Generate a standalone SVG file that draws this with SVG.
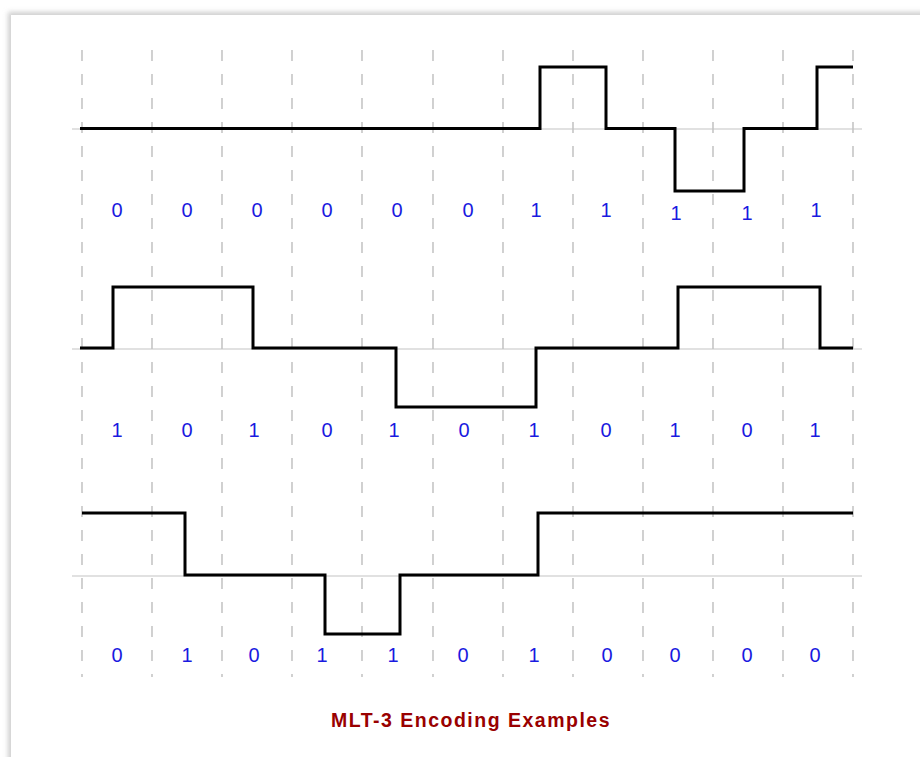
<svg xmlns="http://www.w3.org/2000/svg" width="920" height="757" viewBox="0 0 920 757">
  <style>
    .grid { stroke: #b8b8b8; stroke-width: 1.3; stroke-dasharray: 11 13; fill: none; }
    .base { stroke: #c4c4c4; stroke-width: 1.2; fill: none; }
    .sig { stroke: #000; stroke-width: 3; fill: none; stroke-linejoin: miter; stroke-linecap: butt; }
    .bit { font-family: "Liberation Sans", Arial, sans-serif; font-size: 20px; fill: #1a1ae0; text-anchor: middle; }
    .title { font-family: "Liberation Sans", Arial, sans-serif; font-size: 19.5px; font-weight: bold; fill: #990000; text-anchor: middle; letter-spacing: 1.5px; }
  </style>
  <defs>
    <filter id="shadow" x="-0.05" y="-0.05" width="1.1" height="1.1">
      <feGaussianBlur stdDeviation="2.5"/>
    </filter>
  </defs>
  <rect x="0" y="0" width="920" height="757" fill="#ffffff"/>
  <rect x="8" y="12" width="1000" height="1000" fill="#cfcfcf" filter="url(#shadow)"/>
  <rect x="11" y="15" width="1000" height="1000" fill="#ffffff"/>

  <g id="grid">
    <line class="grid" x1="82" y1="50" x2="82" y2="677"/>
    <line class="grid" x1="152" y1="50" x2="152" y2="677"/>
    <line class="grid" x1="222" y1="50" x2="222" y2="677"/>
    <line class="grid" x1="292" y1="50" x2="292" y2="677"/>
    <line class="grid" x1="362" y1="50" x2="362" y2="677"/>
    <line class="grid" x1="433" y1="50" x2="433" y2="677"/>
    <line class="grid" x1="503" y1="50" x2="503" y2="677"/>
    <line class="grid" x1="573" y1="50" x2="573" y2="677"/>
    <line class="grid" x1="643" y1="50" x2="643" y2="677"/>
    <line class="grid" x1="713" y1="50" x2="713" y2="677"/>
    <line class="grid" x1="783" y1="50" x2="783" y2="677"/>
    <line class="grid" x1="853" y1="50" x2="853" y2="677"/>
  </g>

  <g id="baselines">
    <line class="base" x1="72" y1="129" x2="862" y2="129"/>
    <line class="base" x1="72" y1="349" x2="862" y2="349"/>
    <line class="base" x1="72" y1="576" x2="862" y2="576"/>
  </g>

  <g id="signal1">
    <path class="sig" d="M80,128.5 H540 V67 H606 V128.5 H675 V191 H744 V128.5 H817 V67 H853"/>
  </g>
  <g id="signal2">
    <path class="sig" d="M80,348 H113 V287 H253 V348 H396 V407 H536 V348 H678 V287 H820 V348 H853"/>
  </g>
  <g id="signal3">
    <path class="sig" d="M82,513 H185 V575 H325 V634 H400 V575 H538 V513 H853"/>
  </g>

  <g id="bits1">
    <text class="bit" x="117" y="217">0</text>
    <text class="bit" x="187" y="217">0</text>
    <text class="bit" x="257" y="217">0</text>
    <text class="bit" x="327" y="217">0</text>
    <text class="bit" x="397" y="217">0</text>
    <text class="bit" x="468" y="217">0</text>
    <text class="bit" x="536" y="217">1</text>
    <text class="bit" x="606" y="217">1</text>
    <text class="bit" x="676" y="220">1</text>
    <text class="bit" x="747" y="220">1</text>
    <text class="bit" x="816" y="217">1</text>
  </g>
  <g id="bits2">
    <text class="bit" x="117" y="437">1</text>
    <text class="bit" x="187" y="437">0</text>
    <text class="bit" x="254" y="437">1</text>
    <text class="bit" x="327" y="437">0</text>
    <text class="bit" x="394" y="437">1</text>
    <text class="bit" x="464" y="437">0</text>
    <text class="bit" x="534" y="437">1</text>
    <text class="bit" x="606" y="437">0</text>
    <text class="bit" x="675" y="437">1</text>
    <text class="bit" x="747" y="437">0</text>
    <text class="bit" x="815" y="437">1</text>
  </g>
  <g id="bits3">
    <text class="bit" x="117" y="662">0</text>
    <text class="bit" x="187" y="662">1</text>
    <text class="bit" x="254" y="662">0</text>
    <text class="bit" x="322" y="662">1</text>
    <text class="bit" x="393" y="662">1</text>
    <text class="bit" x="463" y="662">0</text>
    <text class="bit" x="534" y="662">1</text>
    <text class="bit" x="607" y="662">0</text>
    <text class="bit" x="675" y="662">0</text>
    <text class="bit" x="747" y="662">0</text>
    <text class="bit" x="815" y="662">0</text>
  </g>

  <g id="title">
    <text class="title" x="471" y="727">MLT-3 Encoding Examples</text>
  </g>
</svg>
